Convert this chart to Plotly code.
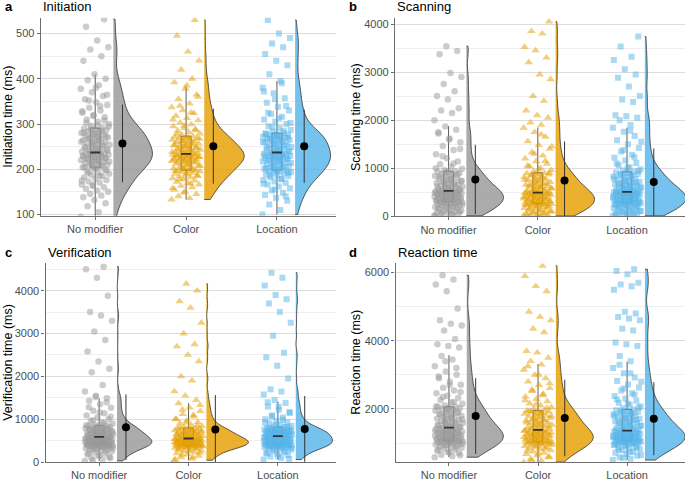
import math
import numpy as np
import plotly.graph_objects as go

categories = ["No modifier", "Color", "Location"]

# ---------------- Panel a: Initiation time (ms) ----------------
init_nomod = [95, 105, 118, 125, 132, 138, 142, 146, 150, 153, 157, 160, 163, 166, 170, 173, 176, 179, 182, 185, 188, 190, 193, 196, 199,
              202, 204, 206, 208, 210, 212, 214, 216, 218, 220, 221, 223, 225, 226, 228, 229, 231, 232, 234, 235, 236, 238, 239, 240, 242,
              244, 246, 248, 250, 252, 254, 256, 258, 260, 262, 264, 266, 268, 270, 272, 274, 276, 278, 280, 282, 284, 286, 288, 290, 292,
              296, 300, 305, 310, 315, 320, 325, 330, 336, 342, 348, 355, 362, 370, 378, 386, 397, 400, 410, 440, 450, 465, 470, 485, 515, 532,
              165, 175, 185, 192, 197, 201, 205, 209, 213, 217, 219, 222, 224, 227, 230, 233, 237, 241, 245, 249, 253, 257, 261, 265, 269,
              273, 277, 281, 285, 289, 294, 298, 303, 308, 318, 328, 340, 352, 365, 380]
init_color = [133, 136, 140, 145, 150, 155, 160, 163, 166, 169, 172, 175, 178, 180, 182, 184, 186, 188, 190, 192, 194, 195, 196, 197, 198,
              200, 202, 204, 206, 208, 210, 212, 214, 216, 218, 219, 220, 221, 222, 224, 225, 226, 227, 228, 229, 230, 231, 232, 233, 234,
              236, 237, 239, 240, 242, 243, 245, 246, 248, 250, 252, 253, 255, 256, 258, 260, 261, 263, 265, 266, 268, 269, 270, 272, 273,
              276, 279, 282, 285, 288, 291, 295, 299, 303, 308, 313, 318, 324, 330, 337, 345, 355, 365, 378, 392, 400, 420, 440, 460, 495, 530,
              148, 158, 168, 177, 185, 191, 196, 199, 203, 207, 211, 215, 217, 219, 221, 223, 225, 227, 229, 231, 233, 235, 238, 241, 244,
              247, 251, 254, 257, 262, 267, 271, 278, 286, 296, 310, 325, 340, 360, 385]
init_location = [100, 110, 122, 130, 137, 143, 148, 153, 158, 162, 166, 170, 173, 176, 179, 182, 185, 187, 189, 191, 193, 194, 195, 196, 197,
                 199, 201, 203, 205, 207, 209, 211, 213, 215, 217, 219, 221, 222, 224, 225, 227, 228, 229, 230, 231, 232, 233, 234, 235, 237,
                 239, 241, 243, 245, 247, 249, 251, 253, 255, 257, 259, 261, 263, 265, 266, 268, 269, 271, 272, 274, 275, 276, 277, 278, 280,
                 283, 287, 291, 295, 300, 305, 310, 316, 322, 330, 338, 347, 357, 368, 380, 395, 410, 430, 440, 455, 470, 478, 490, 500, 530,
                 140, 155, 168, 178, 186, 192, 198, 202, 206, 210, 214, 218, 220, 223, 226, 229, 232, 236, 240, 244, 248, 252, 256, 260, 264,
                 267, 270, 273, 279, 285, 293, 302, 312, 325, 340, 355, 372, 390]
init_q1 = [203, 198, 198]
init_median = [237, 234, 237]
init_q3 = [291, 273, 280]
init_whisker_lo = [95, 133, 100]
init_whisker_hi = [410, 382, 395]
init_mean = [257, 251, 251]
init_sd = [86, 83, 81]

# ---------------- Panel b: Scanning time (ms) ----------------
scan_nomod = [10, 20, 30, 45, 60, 75, 90, 105, 120, 135, 150, 165, 180, 195, 210, 222, 234, 246, 258, 268, 278, 286, 294, 300, 306,
              315, 325, 335, 345, 355, 365, 375, 385, 395, 405, 415, 425, 435, 445, 455, 465, 475, 483, 491, 499, 506, 512, 518, 522, 526,
              540, 555, 570, 585, 600, 615, 630, 645, 660, 675, 690, 705, 720, 740, 760, 780, 800, 820, 840, 860, 880, 900, 915, 925, 936,
              960, 990, 1030, 1080, 1140, 1210, 1290, 1380, 1460, 1540, 1620, 1720, 1800, 1870, 2000, 2150, 2200, 2250, 2430, 2500,
              2600, 2750, 2900, 2980, 3370, 3440, 3540,
              15, 40, 70, 100, 130, 160, 190, 215, 240, 260, 280, 298, 312, 330, 350, 370, 390, 410, 430, 450, 470, 490, 510, 535, 560,
              590, 620, 650, 690, 730, 770, 820, 870, 930, 1000, 1100, 1250, 1400, 1600, 1750]
scan_color = [5, 12, 20, 30, 42, 55, 68, 80, 95, 110, 125, 140, 155, 170, 185, 198, 210, 220, 230, 238, 245, 252, 258, 262, 266,
              275, 285, 295, 305, 315, 325, 335, 345, 355, 365, 375, 385, 395, 405, 415, 425, 435, 445, 455, 463, 470, 477, 483, 488, 492,
              505, 520, 535, 550, 565, 580, 595, 610, 625, 640, 655, 670, 690, 710, 730, 750, 770, 790, 810, 830, 850, 865, 880, 892, 903,
              930, 960, 1000, 1040, 1090, 1140, 1200, 1260, 1330, 1400, 1480, 1560, 1650, 1750, 1840, 1900, 1950, 2050, 2100, 2200,
              2400, 2500, 2850, 2950, 3200, 3300, 3450, 3520, 3800, 3850, 4050,
              8, 25, 50, 75, 100, 130, 160, 190, 215, 240, 260, 280, 300, 320, 340, 360, 380, 400, 420, 440, 460, 480, 500, 525, 550,
              580, 610, 645, 680, 720, 760, 800, 850, 900, 970, 1050, 1150, 1300, 1450, 1700]
scan_location = [8, 18, 28, 40, 52, 65, 78, 92, 106, 120, 135, 150, 165, 180, 195, 208, 220, 232, 244, 254, 264, 272, 278, 283, 287,
                 296, 306, 316, 326, 336, 346, 356, 366, 376, 386, 396, 406, 416, 426, 436, 446, 456, 465, 473, 481, 488, 494, 499, 503, 506,
                 520, 535, 550, 565, 580, 595, 610, 625, 640, 655, 670, 685, 700, 720, 740, 760, 780, 800, 820, 840, 860, 880, 900, 912, 924,
                 950, 980, 1020, 1060, 1110, 1160, 1220, 1280, 1350, 1420, 1500, 1580, 1670, 1760, 1840, 1900, 2000, 2050, 2080, 2100,
                 2380, 2430, 2500, 2700, 2880, 2950, 3060, 3250, 3320, 3530, 3740,
                 10, 30, 55, 80, 110, 140, 170, 200, 225, 250, 270, 290, 310, 330, 350, 370, 390, 410, 430, 450, 470, 490, 515, 540, 570,
                 600, 630, 665, 700, 740, 780, 830, 880, 940, 1010, 1100, 1230, 1380, 1550, 1780]
scan_q1 = [308, 267, 288]
scan_median = [527, 493, 507]
scan_q3 = [938, 904, 925]
scan_whisker_lo = [10, 5, 8]
scan_whisker_hi = [1877, 1849, 1842]
scan_mean = [767, 747, 712]
scan_sd = [720, 810, 700]

# ---------------- Panel c: Verification time (ms) ----------------
verif_nomod = [30, 60, 90, 120, 150, 180, 205, 230, 250, 270, 285, 300, 312, 324, 335, 345, 355, 363, 370, 376, 382, 387, 392, 396, 398,
               405, 412, 419, 426, 433, 440, 447, 454, 461, 468, 475, 482, 489, 496, 503, 511, 519, 527, 535, 543, 551, 560, 569, 578, 588,
               600, 610, 620, 630, 640, 650, 660, 670, 680, 690, 700, 710, 720, 732, 744, 756, 768, 780, 792, 804, 816, 828, 838, 845, 851,
               870, 900, 930, 960, 1000, 1040, 1090, 1140, 1200, 1270, 1350, 1430, 1490, 1550, 1650, 1800, 2100, 2180, 2350, 2580,
               2850, 3050, 3300, 3420, 3500, 3880, 4300, 4500, 4560,
               45, 100, 160, 210, 260, 300, 330, 355, 375, 395, 410, 425, 440, 455, 470, 485, 500, 515, 530, 545, 560, 575, 595, 615, 635,
               655, 680, 705, 730, 760, 790, 820, 860, 910, 980, 1060, 1160, 1280, 1400, 1520]
verif_color = [46, 80, 115, 150, 180, 205, 228, 250, 268, 285, 300, 313, 325, 336, 346, 355, 363, 370, 376, 381, 385, 388, 390, 391, 392,
               398, 405, 412, 419, 426, 433, 440, 447, 454, 460, 466, 472, 478, 484, 490, 496, 502, 508, 514, 520, 526, 532, 538, 544, 550,
               560, 570, 580, 590, 600, 610, 620, 630, 640, 650, 660, 670, 680, 690, 700, 710, 720, 730, 740, 750, 760, 770, 780, 790, 797,
               815, 840, 870, 900, 935, 970, 1010, 1060, 1120, 1190, 1270, 1370, 1450, 1550, 1650, 1900, 2000, 2350, 2500, 2700,
               2750, 3000, 3250, 3600, 3750, 4000, 4160,
               60, 110, 170, 220, 260, 295, 325, 350, 370, 388, 402, 416, 430, 444, 458, 470, 482, 494, 506, 518, 530, 545, 562, 580, 600,
               620, 645, 670, 700, 730, 760, 800, 850, 920, 1000, 1100, 1220, 1330]
verif_location = [61, 95, 130, 165, 195, 222, 246, 268, 288, 305, 320, 333, 345, 356, 365, 373, 380, 386, 391, 395, 399, 402, 404, 405, 406,
                  413, 420, 428, 436, 444, 452, 460, 468, 476, 484, 492, 500, 508, 516, 524, 532, 540, 548, 556, 564, 572, 580, 588, 596, 604,
                  612, 620, 628, 636, 644, 652, 660, 668, 676, 684, 692, 700, 708, 716, 724, 732, 740, 748, 756, 764, 772, 780, 790, 800, 812,
                  830, 850, 875, 900, 930, 965, 1000, 1040, 1090, 1150, 1220, 1300, 1380, 1450, 1580, 1650, 1700, 1950, 2250, 2450,
                  2550, 2950, 3250, 3500, 3700, 3800, 3900, 4120, 4300, 4420,
                  75, 140, 200, 250, 290, 325, 355, 380, 400, 418, 436, 454, 472, 490, 508, 526, 544, 562, 580, 598, 616, 634, 652, 670, 690,
                  710, 735, 760, 790, 825, 870, 920, 990, 1070, 1170, 1290, 1400]
verif_q1 = [399, 392, 407]
verif_median = [591, 553, 607]
verif_q3 = [852, 798, 814]
verif_whisker_lo = [30, 46, 61]
verif_whisker_hi = [1489, 1374, 1413]
verif_mean = [814, 760, 776]
verif_sd = [768, 806, 767]

# ---------------- Panel d: Reaction time (ms) ----------------
rt_nomod = [585, 620, 660, 700, 740, 775, 805, 835, 860, 885, 905, 925, 943, 960, 975, 990, 1003, 1015, 1026, 1036, 1045, 1053, 1060, 1064, 1067,
            1080, 1095, 1110, 1125, 1140, 1155, 1170, 1185, 1200, 1215, 1230, 1245, 1260, 1275, 1290, 1305, 1320, 1335, 1350, 1365, 1380, 1395, 1410, 1425, 1445,
            1470, 1495, 1520, 1545, 1570, 1595, 1620, 1645, 1670, 1695, 1720, 1745, 1770, 1800, 1830, 1860, 1890, 1920, 1950, 1975, 2000, 2020, 2040, 2055, 2062,
            2100, 2150, 2200, 2260, 2320, 2390, 2460, 2540, 2620, 2710, 2800, 2900, 3000, 3100, 3250, 3450, 3550, 3800, 3850, 3900,
            4050, 4300, 4450, 4500, 4600, 4950, 5450, 5650, 5800, 5920,
            640, 720, 800, 870, 930, 980, 1020, 1050, 1075, 1100, 1130, 1160, 1190, 1220, 1250, 1280, 1310, 1340, 1370, 1400,
            1430, 1460, 1500, 1540, 1590, 1640, 1700, 1760, 1830, 1900, 1980, 2080, 2200, 2350, 2500, 2700, 2950, 3200, 3400]
rt_color = [440, 480, 530, 580, 630, 675, 715, 750, 785, 815, 842, 866, 888, 908, 926, 943, 958, 972, 985, 996, 1005, 1013, 1020, 1025, 1028,
            1040, 1055, 1070, 1085, 1100, 1115, 1130, 1145, 1160, 1175, 1190, 1205, 1220, 1235, 1250, 1265, 1280, 1295, 1310, 1325, 1340, 1352, 1364, 1375, 1385,
            1405, 1430, 1455, 1480, 1505, 1530, 1555, 1580, 1605, 1630, 1655, 1680, 1705, 1730, 1755, 1780, 1805, 1830, 1855, 1880, 1900, 1920, 1935, 1947, 1956,
            2000, 2050, 2100, 2160, 2220, 2290, 2360, 2440, 2520, 2610, 2700, 2800, 2900, 3000, 3150, 3300, 3400, 3500, 3650, 3700,
            4250, 4350, 4600, 4700, 4850, 5450, 5600, 5900, 6200,
            500, 600, 690, 770, 840, 900, 950, 990, 1030, 1060, 1090, 1120, 1150, 1180, 1210, 1240, 1270, 1300, 1330, 1360,
            1395, 1440, 1490, 1540, 1600, 1660, 1720, 1790, 1860, 1940, 2030, 2130, 2250, 2400, 2560, 2750, 3000, 3250]
rt_location = [500, 540, 585, 630, 675, 715, 752, 788, 820, 850, 877, 902, 925, 946, 965, 982, 997, 1010, 1021, 1031, 1039, 1046, 1051, 1055, 1057,
               1068, 1080, 1092, 1104, 1116, 1128, 1140, 1152, 1164, 1176, 1188, 1200, 1212, 1224, 1236, 1248, 1260, 1272, 1284, 1296, 1308, 1320, 1335, 1350, 1365,
               1390, 1415, 1440, 1465, 1490, 1515, 1540, 1565, 1590, 1615, 1640, 1665, 1690, 1715, 1740, 1765, 1790, 1815, 1840, 1865, 1890, 1915, 1940, 1965, 1985,
               2020, 2070, 2120, 2180, 2240, 2310, 2380, 2460, 2540, 2630, 2720, 2820, 2920, 3050, 3200, 3400, 3550, 3850, 3900, 3950,
               4300, 4350, 4600, 4650, 4700, 4800, 4850, 5500, 5600, 5650, 5700, 5950, 6050, 6100,
               560, 650, 730, 800, 865, 920, 965, 1000, 1035, 1065, 1095, 1125, 1155, 1185, 1215, 1245, 1275, 1305, 1340, 1375,
               1410, 1450, 1500, 1550, 1610, 1670, 1730, 1800, 1870, 1950, 2040, 2150, 2280, 2420, 2600, 2800, 3050, 3300]
rt_q1 = [1068, 1029, 1058]
rt_median = [1454, 1386, 1367]
rt_q3 = [2063, 1957, 1986]
rt_whisker_lo = [585, 440, 500]
rt_whisker_hi = [3580, 3320, 3387]
rt_mean = [1792, 1734, 1715]
rt_sd = [1111, 1120, 1072]

# ---------------- styling ----------------
FONT = "Liberation Sans, Arial, sans-serif"
colors = ["153,153,153", "230,159,0", "86,180,233"]
symbols = ["circle", "triangle-up", "square"]
msizes = [6.5, 7.5, 6]
DARK = "#333333"
AXIS = "#6e6e6e"

panels = [
    dict(letter="a", title="Initiation", ytitle="Initiation time (ms)",
         groups=[init_nomod, init_color, init_location],
         q1=init_q1, med=init_median, q3=init_q3, lo=init_whisker_lo, hi=init_whisker_hi,
         mean=init_mean, sd=init_sd,
         xdom=[40.7, 336], ydom=[18, 218.5], yrange=[97, 535],
         ticks=[100, 200, 300, 400, 500], minor=[150, 250, 350, 450],
         vwidth=[0.86, 0.88, 0.78], ytitle_x=8, letter_x=3),
    dict(letter="b", title="Scanning", ytitle="Scanning time (ms)",
         groups=[scan_nomod, scan_color, scan_location],
         q1=scan_q1, med=scan_median, q3=scan_q3, lo=scan_whisker_lo, hi=scan_whisker_hi,
         mean=scan_mean, sd=scan_sd,
         xdom=[395, 685], ydom=[18, 219], yrange=[0, 4130],
         ticks=[0, 1000, 2000, 3000, 4000], minor=[500, 1500, 2500, 3500],
         vwidth=[0.83, 0.87, 0.92], ytitle_x=356, letter_x=347),
    dict(letter="c", title="Verification", ytitle="Verification time (ms)",
         groups=[verif_nomod, verif_color, verif_location],
         q1=verif_q1, med=verif_median, q3=verif_q3, lo=verif_whisker_lo, hi=verif_whisker_hi,
         mean=verif_mean, sd=verif_sd,
         xdom=[45.5, 336], ydom=[266.7, 468], yrange=[0, 4636],
         ticks=[0, 1000, 2000, 3000, 4000], minor=[500, 1500, 2500, 3500, 4500],
         vwidth=[0.78, 0.94, 0.82], ytitle_x=8, letter_x=3),
    dict(letter="d", title="Reaction time", ytitle="Reaction time (ms)",
         groups=[rt_nomod, rt_color, rt_location],
         q1=rt_q1, med=rt_median, q3=rt_q3, lo=rt_whisker_lo, hi=rt_whisker_hi,
         mean=rt_mean, sd=rt_sd,
         xdom=[395.5, 685], ydom=[266.7, 467.7], yrange=[447, 6270],
         ticks=[2000, 4000, 6000], minor=[1000, 3000, 5000],
         vwidth=[0.82, 0.84, 0.90], ytitle_x=356, letter_x=347),
]

W, H = 685, 483
PHI = (math.sqrt(5) - 1) / 2
JIT = 0.16
BOXW = 0.11

fig = go.Figure()
annotations = []
layout_axes = {}

for k, p in enumerate(panels):
    sfx = "" if k == 0 else str(k + 1)
    xa, ya = "x" + sfx, "y" + sfx
    for g, vals in enumerate(p["groups"]):
        pos = g + 1
        n = len(vals)
        xs = [pos + ((i * PHI) % 1.0 * 2 - 1) * JIT for i in range(n)]
        fig.add_trace(go.Scatter(
            x=xs, y=vals, mode="markers", xaxis=xa, yaxis=ya,
            marker=dict(symbol=symbols[g], size=msizes[g], color="rgba(%s,0.5)" % colors[g], line=dict(width=0)),
            showlegend=False, hoverinfo="skip"))
    for g in range(3):
        pos = g + 1
        fig.add_trace(go.Box(
            x=[pos], q1=[p["q1"][g]], median=[p["med"][g]], q3=[p["q3"][g]],
            lowerfence=[p["lo"][g]], upperfence=[p["hi"][g]],
            width=BOXW, whiskerwidth=0, boxpoints=False,
            fillcolor="rgba(%s,0.45)" % colors[g], line=dict(color=DARK, width=0.8),
            xaxis=xa, yaxis=ya, showlegend=False, hoverinfo="skip"))
        fig.add_trace(go.Scatter(
            x=[pos - BOXW / 2, pos + BOXW / 2], y=[p["med"][g]] * 2, mode="lines",
            line=dict(color=DARK, width=1.8), xaxis=xa, yaxis=ya, showlegend=False, hoverinfo="skip"))
    for g, vals in enumerate(p["groups"]):
        arr = np.array(vals, dtype=float)
        iqr = np.percentile(arr, 75) - np.percentile(arr, 25)
        bw = 0.9 * min(arr.std(ddof=1), iqr / 1.34) * len(arr) ** -0.2
        fig.add_trace(go.Violin(
            x0=g + 1 + 0.2, y=vals, side="positive", width=p["vwidth"][g], points=False,
            spanmode="hard", bandwidth=bw, scalemode="width",
            fillcolor="rgba(%s,0.82)" % colors[g], line=dict(color=DARK, width=0.8),
            xaxis=xa, yaxis=ya, showlegend=False, hoverinfo="skip"))
    fig.add_trace(go.Scatter(
        x=[1.3, 2.3, 3.3], y=p["mean"], mode="markers", xaxis=xa, yaxis=ya,
        marker=dict(color="black", size=8),
        error_y=dict(type="data", array=p["sd"], width=0, thickness=1, color=DARK),
        showlegend=False, hoverinfo="skip"))

    x0, x1 = p["xdom"]
    y0, y1 = p["ydom"]
    layout_axes["xaxis" + sfx] = dict(
        domain=[x0 / W, x1 / W], anchor=ya, range=[0.4, 3.65],
        tickvals=[1, 2, 3], ticktext=categories, showgrid=False, zeroline=False,
        showline=True, linecolor=AXIS, linewidth=1.2, ticks="outside", ticklen=3,
        tickcolor=AXIS, tickfont=dict(size=11, color="#4d4d4d", family=FONT))
    layout_axes["yaxis" + sfx] = dict(
        domain=[1 - y1 / H, 1 - y0 / H], anchor=xa, range=p["yrange"],
        tickvals=p["ticks"], showgrid=True, gridcolor="#dcdcdc", gridwidth=0.8, zeroline=False,
        showline=True, linecolor=AXIS, linewidth=1.2, ticks="outside", ticklen=3,
        tickcolor=AXIS, tickfont=dict(size=11, color="#4d4d4d", family=FONT),
        minor=dict(tickvals=p["minor"], showgrid=True, gridcolor="#efefef", gridwidth=0.8))
    annotations.append(dict(text="<b>%s</b>" % p["letter"], x=p["letter_x"] / W, y=1 - (y0 - 11) / H,
                            xref="paper", yref="paper", xanchor="left", yanchor="middle", showarrow=False,
                            font=dict(size=13, color="black", family=FONT)))
    annotations.append(dict(text=p["title"], x=x0 / W, y=1 - (y0 - 11) / H,
                            xref="paper", yref="paper", xanchor="left", yanchor="middle", showarrow=False,
                            font=dict(size=13, color="black", family=FONT)))
    annotations.append(dict(text=p["ytitle"], x=p["ytitle_x"] / W, y=1 - ((y0 + y1) / 2) / H,
                            xref="paper", yref="paper", xanchor="center", yanchor="middle", showarrow=False,
                            textangle=-90, font=dict(size=12.5, color="black", family=FONT)))

fig.update_layout(
    width=W, height=H, margin=dict(l=0, r=0, t=0, b=0),
    paper_bgcolor="white", plot_bgcolor="white",
    boxmode="overlay", violinmode="overlay",
    font=dict(family=FONT), annotations=annotations, **layout_axes)

fig.write_html("out.html", config={"displayModeBar": False},
               post_script="document.body.style.margin='0';document.body.style.overflow='hidden';")
